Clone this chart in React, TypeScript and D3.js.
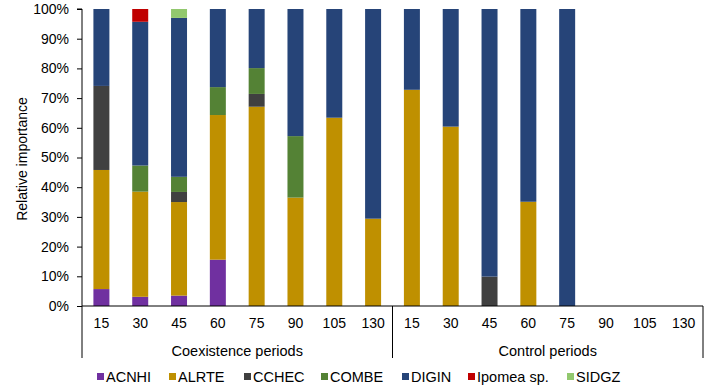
import React, { useEffect, useRef } from 'react';
import * as d3 from 'd3';

const periods = ['15', '30', '45', '60', '75', '90', '105', '130', '15', '30', '45', '60', '75', '90', '105', '130'];
const groups = ['Coexistence periods', 'Control periods'];
const species = ['ACNHI', 'ALRTE', 'CCHEC', 'COMBE', 'DIGIN', 'Ipomea sp.', 'SIDGZ'];
const colors = ['#7030a0', '#bf9000', '#404040', '#548235', '#264478', '#c00000', '#92c86e'];

const ACNHI = [5.7, 3.1, 3.5, 15.6, 0, 0, 0, 0, 0, 0, 0, 0, 0, 0, 0, 0];
const ALRTE = [40.1, 35.4, 31.5, 48.7, 67.1, 36.5, 63.4, 29.4, 72.8, 60.4, 0, 35.1, 0, 0, 0, 0];
const CCHEC = [28.3, 0, 3.4, 0, 4.3, 0, 0, 0, 0, 0, 9.9, 0, 0, 0, 0, 0];
const COMBE = [0, 8.8, 5.1, 9.4, 8.7, 20.7, 0, 0, 0, 0, 0, 0, 0, 0, 0, 0];
const DIGIN = [25.9, 48.4, 53.5, 26.3, 19.9, 42.8, 36.6, 70.6, 27.2, 39.6, 90.1, 64.9, 100, 0, 0, 0];
const IPOMEA = [0, 4.3, 0, 0, 0, 0, 0, 0, 0, 0, 0, 0, 0, 0, 0, 0];
const SIDGZ = [0, 0, 3.0, 0, 0, 0, 0, 0, 0, 0, 0, 0, 0, 0, 0, 0];

const yTicks = [0, 10, 20, 30, 40, 50, 60, 70, 80, 90, 100];

const App = () => {
  const ref = useRef<SVGSVGElement>(null);

  useEffect(() => {
    const svg = d3.select(ref.current);
    svg.selectAll('*').remove();
    const font = 'Liberation Sans, Arial, sans-serif';

    const left = 82, right = 703, top = 9, bottom = 306;
    const series = [ACNHI, ALRTE, CCHEC, COMBE, DIGIN, IPOMEA, SIDGZ];
    const rows = periods.map((p, i) => {
      const r: any = { idx: i };
      species.forEach((s, j) => (r[s] = series[j][i]));
      return r;
    });

    const x = d3.scaleBand<number>()
      .domain(periods.map((_, i) => i))
      .range([left, right])
      .paddingInner(0.588)
      .paddingOuter(0.294);
    const y = d3.scaleLinear().domain([0, 100]).range([bottom, top]);

    const stacked = d3.stack<any>().keys(species)(rows);

    svg.append('g')
      .selectAll('g')
      .data(stacked)
      .join('g')
      .attr('fill', (_, i) => colors[i])
      .selectAll('rect')
      .data(d => d.filter(s => s[1] - s[0] > 0))
      .join('rect')
      .attr('x', d => x(d.data.idx)!)
      .attr('width', x.bandwidth())
      .attr('y', d => y(d[1]))
      .attr('height', d => y(d[0]) - y(d[1]));

    // y axis
    const ya = svg.append('g')
      .attr('transform', `translate(${left},0)`)
      .call(d3.axisLeft(y).tickValues(yTicks).tickSize(5).tickPadding(8).tickFormat(d => d + '%'));
    ya.select('.domain').attr('stroke', '#000').attr('d', `M-5,${top}H0V${bottom}`);
    ya.selectAll('line').attr('stroke', '#000');
    ya.selectAll('text').attr('font-family', font).attr('font-size', 14).attr('fill', '#000');

    // x axis
    const step = x.step();
    const g = svg.append('g');
    g.append('line').attr('x1', left).attr('x2', right).attr('y1', bottom).attr('y2', bottom).attr('stroke', '#000');
    [0, 8, 16].forEach(k => {
      const xx = left + k * step;
      g.append('line').attr('x1', xx).attr('x2', xx).attr('y1', bottom).attr('y2', 358).attr('stroke', '#000');
    });
    g.selectAll('text.tick')
      .data(periods)
      .join('text')
      .attr('x', (_, i) => x(i)! + x.bandwidth() / 2)
      .attr('y', 328)
      .attr('text-anchor', 'middle')
      .attr('font-family', font)
      .attr('font-size', 14)
      .text(d => d);
    g.selectAll('text.grp')
      .data(groups)
      .join('text')
      .attr('x', (_, i) => left + (i * 8 + 4) * step)
      .attr('y', 356)
      .attr('text-anchor', 'middle')
      .attr('font-family', font)
      .attr('font-size', 14.5)
      .text(d => d);

    svg.append('text')
      .attr('transform', 'translate(27,159) rotate(-90)')
      .attr('text-anchor', 'middle')
      .attr('font-family', font)
      .attr('font-size', 14)
      .text('Relative importance');

    // legend
    const legX = [97, 169, 244, 321, 402, 468, 567];
    const leg = svg.append('g')
      .selectAll('g')
      .data(species)
      .join('g')
      .attr('transform', (_, i) => `translate(${legX[i]},377)`);
    leg.append('rect').attr('x', 0).attr('y', -4).attr('width', 7).attr('height', 7).attr('fill', (_, i) => colors[i]);
    leg.append('text')
      .attr('x', 9)
      .attr('y', 5)
      .attr('font-family', font)
      .attr('font-size', 14.5)
      .text(d => d);
  }, []);

  return (
    <div style={{ position: 'absolute', left: 0, top: 0 }}>
      <svg ref={ref} width={705} height={389} style={{ display: 'block', background: '#fff' }} />
    </div>
  );
};

export default App;
